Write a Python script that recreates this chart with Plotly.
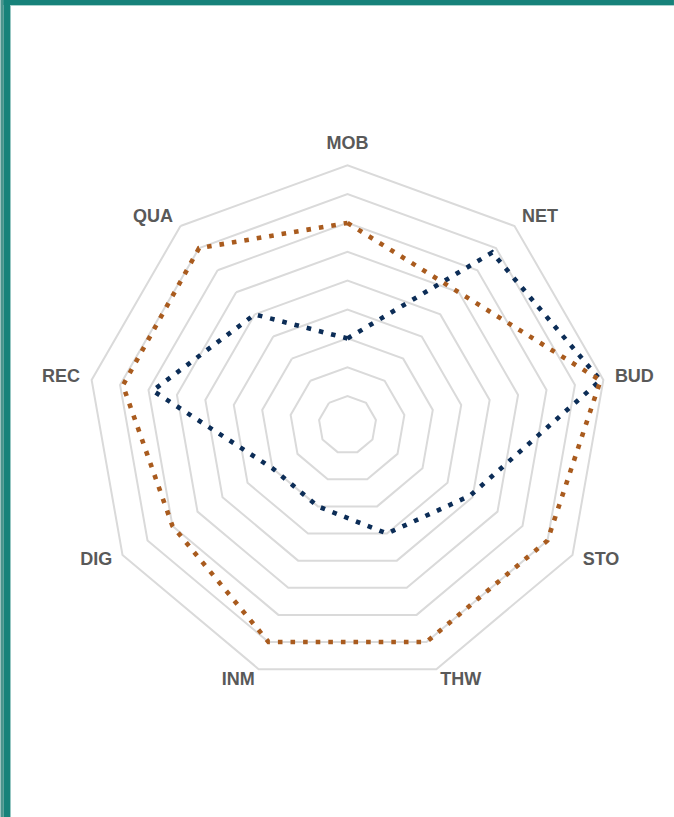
import plotly.graph_objects as go

categories = ["MOB", "NET", "BUD", "STO", "THW", "INM", "DIG", "REC", "QUA"]
series_orange = [7.0, 6.0, 8.9, 8.0, 8.0, 8.0, 7.0, 7.9, 8.0]
series_navy = [3.0, 7.8, 8.9, 4.9, 4.0, 3.0, 3.0, 6.85, 5.0]
radial_max = 9
grid_ticks = list(range(1, radial_max + 1))

# layout geometry (pixels)
W, H = 674, 817
CX, CY = 347.3, 425.0
RING_PX = 260.0
label_r = radial_max * 1.045
R_PX = RING_PX * label_r / radial_max
ML = CX - R_PX
MR = W - CX - R_PX
MT = 100
MB = H - MT - 2 * (CY - MT)
PW, PH = W - ML - MR, H - MT - MB


def px_x(p):
    return (p - ML) / PW


def px_y(p):
    return 1 - (p - MT) / PH


fig = go.Figure()


def closed(vals):
    return list(vals) + [vals[0]]


fig.add_trace(go.Scatterpolar(
    r=closed(series_navy), theta=closed(categories), mode="lines",
    line=dict(color="#0C2D57", width=4.6, dash="4.6px,8px"),
    hoverinfo="skip", showlegend=False))
fig.add_trace(go.Scatterpolar(
    r=closed(series_orange), theta=closed(categories), mode="lines",
    line=dict(color="#A95B1E", width=4.6, dash="4.6px,8px"),
    hoverinfo="skip", showlegend=False))

# category names placed just outside the outer ring
label_positions = ["top center", "middle right", "middle right", "middle right",
                   "middle right", "middle left", "middle left", "middle left",
                   "middle left"]
fig.add_trace(go.Scatterpolar(
    r=[label_r] * len(categories), theta=categories, mode="text",
    text=categories, textposition=label_positions, cliponaxis=False,
    textfont=dict(family="Liberation Sans, Arial", size=18, color="#595959",
                  weight="bold"),
    hoverinfo="skip", showlegend=False))

shapes = [
    dict(type="rect", xref="paper", yref="paper", x0=px_x(0), x1=px_x(3.3),
         y0=px_y(0), y1=px_y(H), fillcolor="#4A948D", line=dict(width=0)),
    dict(type="rect", xref="paper", yref="paper", x0=px_x(3.3), x1=px_x(10),
         y0=px_y(0), y1=px_y(H), fillcolor="#17827A", line=dict(width=0)),
    dict(type="rect", xref="paper", yref="paper", x0=px_x(3), x1=px_x(W),
         y0=px_y(0), y1=px_y(5), fillcolor="#17827A", line=dict(width=0)),
    dict(type="rect", xref="paper", yref="paper", x0=px_x(10), x1=px_x(W),
         y0=px_y(5), y1=px_y(6), fillcolor="#A9D3CE", line=dict(width=0)),
]

fig.update_layout(
    width=W, height=H,
    margin=dict(l=ML, r=MR, t=MT, b=MB, autoexpand=False),
    paper_bgcolor="white", plot_bgcolor="white",
    showlegend=False,
    shapes=shapes,
    polar=dict(
        bgcolor="white",
        gridshape="linear",
        domain=dict(x=[0, 1], y=[0, 1]),
        radialaxis=dict(range=[0, label_r], tickvals=grid_ticks, showline=False,
                        showticklabels=False, ticks="", gridcolor="#DADADA",
                        gridwidth=2),
        angularaxis=dict(rotation=90, direction="clockwise", showgrid=False,
                         showline=False, ticks="", showticklabels=False),
    ),
)

fig.write_html("out.html",
               config={"displayModeBar": False},
               post_script="document.body.style.margin='0px';"
                           "document.body.style.padding='0px';")
